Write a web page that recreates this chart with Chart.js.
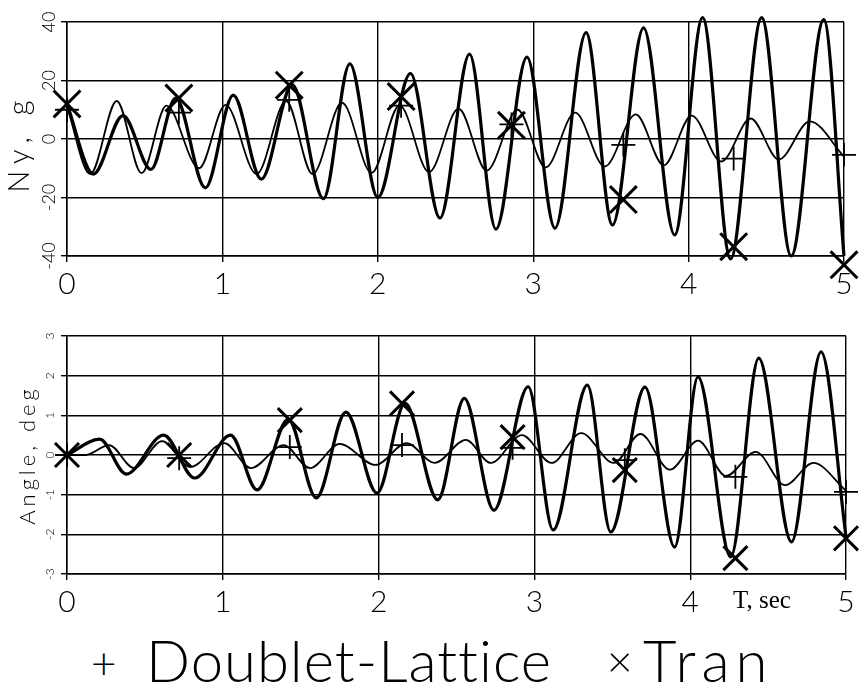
<!DOCTYPE html>
<html>
<head>
<meta charset="utf-8">
<script src="https://cdn.jsdelivr.net/npm/chart.js@4.4.1/dist/chart.umd.min.js"></script>
<style>
  html, body { margin: 0; padding: 0; background: #fff; }
  #wrap { position: relative; width: 866px; height: 690px; overflow: hidden; }
  canvas { position: absolute; left: 0; }
  #cTop { top: 0; }
  #cBot { top: 300px; }
  .leg { position: absolute; font-family: Lato, sans-serif; font-weight: 300; color: #000; line-height: 1; white-space: nowrap; }
</style>
</head>
<body>
<div id="wrap">
  <canvas id="cTop" width="866" height="300"></canvas>
  <canvas id="cBot" width="866" height="330"></canvas>
  <span class="leg" style="left:91px; top:640px; font-size:44px;">+</span>
  <span class="leg" style="left:146px; top:631px; font-size:58px; letter-spacing:1px;">Doublet-Lattice</span>
  <span class="leg" style="left:607px; top:638px; font-size:44px;">×</span>
  <span class="leg" style="left:643px; top:631px; font-size:58px; letter-spacing:6px;">Tran</span>
</div>
<script>
// axes
const xTicks = [0, 1, 2, 3, 4, 5];
const nyTicks = [-40, -20, 0, 20, 40];
const angleTicks = [-3, -2, -1, 0, 1, 2, 3];

// Ny, g -- Doublet-Lattice (thin line), peaks and troughs
const nyDLTime = [0, 0.15, 0.32, 0.48, 0.64, 0.85, 1.02, 1.22, 1.41, 1.58, 1.77, 1.96, 2.14, 2.33, 2.52, 2.70, 2.90, 3.08, 3.27, 3.46, 3.66, 3.84, 4.02, 4.21, 4.40, 4.58, 4.78, 5.0];
const nyDLVal  = [11, -12, 13, -11.7, 11.4, -10, 11.7, -12, 13, -12, 12.4, -11.6, 11.5, -11.3, 10.4, -10.8, 10, -9.7, 9, -9.4, 8.4, -9, 8, -7.7, 7, -7, 6, -6];

// Ny, g -- Tran (thick line)
const nyTranTime = [0, 0.17, 0.36, 0.54, 0.70, 0.89, 1.07, 1.25, 1.45, 1.65, 1.82, 2.00, 2.21, 2.40, 2.59, 2.76, 2.96, 3.14, 3.34, 3.51, 3.71, 3.91, 4.09, 4.27, 4.47, 4.66, 4.87, 5.0];
const nyTranVal  = [12, -12, 8, -10.4, 14, -16.7, 15, -13.7, 18.5, -20.4, 25.7, -20, 22.4, -27, 29, -30.8, 28, -30.5, 36.4, -29.4, 38, -32.8, 41.5, -41, 41.5, -40, 40.8, -40];

// Angle, deg -- Doublet-Lattice
const angDLTime = [0, 0.12, 0.27, 0.43, 0.61, 0.79, 1.01, 1.18, 1.39, 1.56, 1.75, 1.98, 2.18, 2.36, 2.56, 2.72, 2.92, 3.11, 3.30, 3.51, 3.68, 3.87, 4.05, 4.23, 4.42, 4.61, 4.79, 5.0];
const angDLVal  = [0, 0, 0.25, -0.33, 0.35, -0.3, 0.3, -0.33, 0.25, -0.33, 0.28, -0.25, 0.3, -0.2, 0.38, -0.2, 0.5, -0.2, 0.55, -0.2, 0.53, -0.37, 0.36, -0.53, 0.08, -0.76, -0.2, -0.9];

// Angle, deg -- Tran
const angTranTime = [0, 0.21, 0.38, 0.62, 0.82, 1.05, 1.22, 1.42, 1.60, 1.79, 1.99, 2.17, 2.38, 2.55, 2.74, 2.96, 3.12, 3.34, 3.49, 3.71, 3.90, 4.05, 4.26, 4.44, 4.65, 4.84, 5.0];
const angTranVal  = [0, 0.4, -0.48, 0.5, -0.58, 0.5, -0.88, 0.9, -1.08, 1.08, -0.96, 1.3, -1.13, 1.43, -1.39, 1.72, -1.89, 1.76, -1.94, 1.71, -2.32, 1.97, -2.57, 2.44, -2.19, 2.6, -2.06];

// symbols (+ Doublet-Lattice, x Tran)
const markTime = [0, 0.72, 1.43, 2.15, 2.86, 3.58, 4.29, 5.0];
const nyDLMark = [10, 9, 13.4, 11.4, 5, -2, -6.7, -5.4];
const nyTranMark = [12, 14, 18.4, 14.5, 4.7, -20.7, -36.8, -43];
const angDLMark = [0, -0.08, 0.2, 0.25, 0.18, -0.13, -0.55, -0.93];
const angTranMark = [0, 0, 0.88, 1.3, 0.45, -0.38, -2.6, -2.1];

const pts = (xs, ys) => xs.map((x, i) => ({ x, y: ys[i] }));

function lineSet(xs, ys, w) {
  return {
    data: pts(xs, ys), borderColor: '#000', borderWidth: w, pointRadius: 0,
    cubicInterpolationMode: 'monotone', fill: false, clip: false
  };
}

function markSet(ys, style, r, w) {
  return {
    data: pts(markTime, ys), showLine: false, pointStyle: style, pointRadius: r,
    pointBorderWidth: w, pointBorderColor: '#000', pointBackgroundColor: '#000', clip: false
  };
}

// rotated y tick labels, y title and extra axis note
const axisText = {
  id: 'axisText',
  afterDraw(chart, args, o) {
    const ctx = chart.ctx, ys = chart.scales.y, area = chart.chartArea;
    ctx.save();
    ctx.fillStyle = '#000';
    ctx.textAlign = 'center';
    ctx.textBaseline = 'middle';
    ctx.font = o.tickFont;
    ys.ticks.forEach(t => {
      ctx.save();
      ctx.translate(o.tickX, ys.getPixelForValue(t.value));
      ctx.rotate(-Math.PI / 2);
      ctx.fillText(String(t.value), 0, 0);
      ctx.restore();
    });
    ctx.font = o.titleFont;
    ctx.letterSpacing = o.titleSpacing;
    ctx.save();
    ctx.translate(o.titleX, (area.top + area.bottom) / 2 + o.titleShift);
    ctx.rotate(-Math.PI / 2);
    ctx.fillText(o.title, 0, 0);
    ctx.restore();
    ctx.letterSpacing = '0px';
    if (o.note) {
      ctx.font = o.noteFont;
      ctx.fillText(o.note, o.noteX, o.noteY);
    }
    ctx.restore();
  }
};

function options(yTicks, yMin, yMax, padTop, xHeight, text) {
  return {
    responsive: false,
    animation: false,
    events: [],
    layout: { padding: { top: padTop, right: 10, left: 0, bottom: 0 } },
    plugins: { legend: { display: false }, tooltip: { enabled: false }, axisText: text },
    scales: {
      x: {
        type: 'linear', min: 0, max: 5,
        afterBuildTicks: s => { s.ticks = xTicks.map(v => ({ value: v })); },
        afterFit: s => { s.height = xHeight; },
        grid: { color: '#000', lineWidth: 1.4, tickLength: 6 },
        border: { color: '#000', width: 1.5 },
        ticks: { color: '#000', padding: 4, maxRotation: 0, font: { family: 'Lato', weight: 300, size: 30 } }
      },
      y: {
        type: 'linear', min: yMin, max: yMax,
        afterBuildTicks: s => { s.ticks = yTicks.map(v => ({ value: v })); },
        afterFit: s => { s.width = 67; },
        grid: { color: '#000', lineWidth: 1.4, tickLength: 6 },
        border: { color: '#000', width: 1.5 },
        ticks: { display: false }
      }
    }
  };
}

new Chart(document.getElementById('cTop'), {
  type: 'line',
  data: {
    datasets: [
      lineSet(nyDLTime, nyDLVal, 1.8),
      lineSet(nyTranTime, nyTranVal, 3.2),
      markSet(nyDLMark, 'cross', 12, 1.8),
      markSet(nyTranMark, 'crossRot', 19, 3)
    ]
  },
  options: options(nyTicks, -40, 40, 17, 44, {
    tickFont: '300 18px Lato', tickX: 49,
    title: 'Ny, g', titleFont: '300 29px Lato', titleSpacing: '7px', titleX: 20, titleShift: 4
  }),
  plugins: [axisText]
});

new Chart(document.getElementById('cBot'), {
  type: 'line',
  data: {
    datasets: [
      lineSet(angDLTime, angDLVal, 1.8),
      lineSet(angTranTime, angTranVal, 3.2),
      markSet(angDLMark, 'cross', 12, 1.8),
      markSet(angTranMark, 'crossRot', 17, 3)
    ]
  },
  options: options(angleTicks, -3, 3, 36, 56, {
    tickFont: '300 12px Lato', tickX: 50,
    title: 'Angle, deg', titleFont: '300 22px Lato', titleSpacing: '4px', titleX: 28, titleShift: 0,
    note: 'T, sec', noteFont: '25px "Liberation Serif"', noteX: 762, noteY: 301
  }),
  plugins: [axisText]
});
</script>
</body>
</html>
